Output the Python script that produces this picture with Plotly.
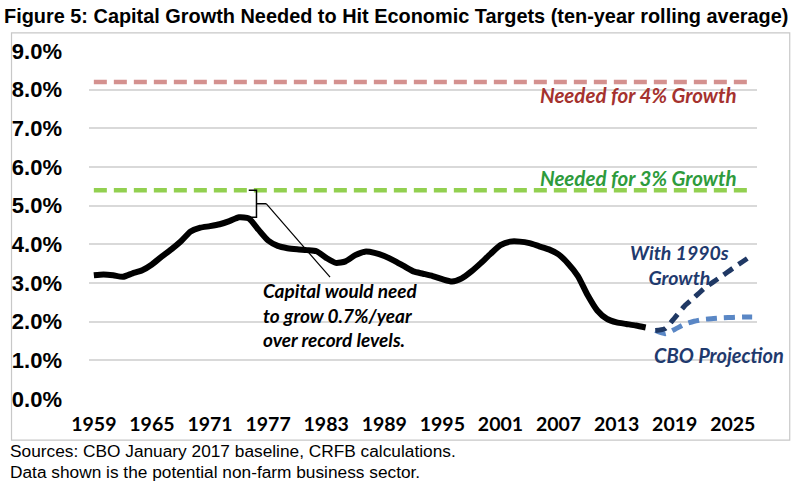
import plotly.graph_objects as go

# ---------------- data ----------------
hist_years = list(range(1959, 2017))
capital_growth = [3.20, 3.22, 3.20, 3.16, 3.25, 3.33, 3.48, 3.68, 3.87, 4.08,
                  4.33, 4.43, 4.47, 4.52, 4.60, 4.70, 4.67, 4.38, 4.10, 3.96,
                  3.90, 3.87, 3.85, 3.82, 3.65, 3.52, 3.56, 3.72, 3.81, 3.78,
                  3.70, 3.58, 3.44, 3.30, 3.24, 3.18, 3.10, 3.04, 3.12, 3.30,
                  3.52, 3.76, 3.98, 4.07, 4.07, 4.03, 3.95, 3.87, 3.74, 3.50,
                  3.18, 2.69, 2.29, 2.07, 1.98, 1.94, 1.90, 1.85]
proj_years = list(range(2017, 2028))
growth_1990s = [1.77, 1.82, 2.10, 2.40, 2.62, 2.85, 3.03, 3.20, 3.38, 3.55, 3.72]
cbo_projection = [1.77, 1.69, 1.80, 1.93, 2.01, 2.06, 2.08, 2.10, 2.11, 2.12, 2.12]
all_years = list(range(1959, 2028))
needed_4pct = [8.2] * len(all_years)
needed_3pct = [5.4] * len(all_years)
tick_years = list(range(1959, 2026, 6))
y_ticks = [0, 1, 2, 3, 4, 5, 6, 7, 8, 9]
y_labels = [f"{v:.1f}%" for v in y_ticks]

LABEL_FONT = "Lato, Carlito, Calibri, Open Sans, sans-serif"
ARIAL = "Liberation Sans, Arial, sans-serif"

fig = go.Figure()
fig.add_trace(go.Scatter(x=all_years, y=needed_4pct, mode="lines",
                         line=dict(color="#D4918F", width=4.5, dash="13px,7px")))
fig.add_trace(go.Scatter(x=all_years, y=needed_3pct, mode="lines",
                         line=dict(color="#92D050", width=4.5, dash="13px,7px")))
fig.add_trace(go.Scatter(x=hist_years, y=capital_growth, mode="lines",
                         line=dict(color="black", width=6, shape="spline", smoothing=0.6)))
fig.add_trace(go.Scatter(x=proj_years, y=cbo_projection, mode="lines",
                         line=dict(color="#5A87C5", width=5, dash="11px,7px",
                                   shape="spline", smoothing=0.6)))
fig.add_trace(go.Scatter(x=proj_years, y=growth_1990s, mode="lines",
                         line=dict(color="#1F3864", width=5, dash="11px,7px",
                                   shape="spline", smoothing=0.6)))

# bracket from record peak to 3% target
peak = max(capital_growth)
peak_year = hist_years[capital_growth.index(peak)]
target = needed_3pct[0]
mid = (peak + target) / 2
xa, xb, xc = peak_year + 1.0, peak_year + 1.8, peak_year + 2.8
fig.add_shape(type="path", xref="x", yref="y",
              path=f"M {xa},{target} L {xb},{target} L {xb},{peak} L {xa},{peak} M {xb},{mid} L {xc},{mid}",
              line=dict(color="black", width=1.5))
fig.add_shape(type="line", xref="x", yref="y", x0=xc, y0=mid, x1=1983.4, y1=3.15,
              line=dict(color="black", width=1.2))

# outer chart border
fig.add_shape(type="rect", xref="paper", yref="paper", x0=-0.116, x1=1.049, y0=-0.118, y1=1.052,
              line=dict(color="#C8C8C8", width=1.2), layer="below")

ann = dict(showarrow=False, xref="x", yref="y")
fig.add_annotation(x=2015.3, y=7.86, text="<b><i>Needed for 4% Growth</i></b>",
                   font=dict(family=LABEL_FONT, size=20.5, color="#A5322E"), **ann)
fig.add_annotation(x=2015.3, y=5.72, text="<b><i>Needed for 3% Growth</i></b>",
                   font=dict(family=LABEL_FONT, size=20.5, color="#2E9B3C"), **ann)
fig.add_annotation(x=2019.5, y=3.47, text="<b><i>With 1990s<br>Growth</i></b>",
                   font=dict(family=LABEL_FONT, size=19.5, color="#1F3A6E"), align="center", **ann)
fig.add_annotation(x=2023.6, y=1.14, text="<b><i>CBO Projection</i></b>",
                   font=dict(family=LABEL_FONT, size=20, color="#1F3A6E"), **ann)
fig.add_annotation(x=1976.3, y=2.17, xanchor="left", align="left",
                   text="<b><i>Capital would need<br>to grow 0.7%/year<br>over record levels.</i></b>",
                   font=dict(family=LABEL_FONT, size=19, color="black"), **ann)

foot = dict(showarrow=False, xref="paper", yref="paper", xanchor="left", yanchor="middle",
            font=dict(family=ARIAL, size=17.3, color="black"))
fig.add_annotation(x=-0.121, y=-0.149, text="Sources: CBO January 2017 baseline, CRFB calculations.", **foot)
fig.add_annotation(x=-0.121, y=-0.21, text="Data shown is the potential non-farm business sector.", **foot)

fig.update_layout(
    width=800, height=485,
    margin=dict(l=85, r=43, t=51, b=86),
    paper_bgcolor="white", plot_bgcolor="white",
    showlegend=False,
    title=dict(text="<b>Figure 5: Capital Growth Needed to Hit Economic Targets (ten-year rolling average)</b>",
               x=4 / 800, xanchor="left", xref="container",
               y=1 - 16 / 485, yanchor="middle", yref="container",
               font=dict(family="Liberation Sans Narrow, Arial Narrow, Liberation Sans, Arial, sans-serif",
                         size=19.9, color="black")),
    xaxis=dict(range=[1958.5, 2027.5], tickmode="array", tickvals=tick_years,
               ticktext=[str(y) for y in tick_years], showgrid=False, zeroline=False,
               showline=False, ticks="", ticklabelstandoff=11,
               tickfont=dict(family=LABEL_FONT, size=19.5, color="black", weight="bold")),
    yaxis=dict(range=[0, 9], tickmode="array", tickvals=y_ticks, ticktext=y_labels,
               showgrid=True, gridcolor="#D9D9D9", gridwidth=1.5, zeroline=False,
               showline=False, ticks="", ticklabelstandoff=26,
               tickfont=dict(family=ARIAL, size=22, color="black", weight="bold")),
)

fig.write_html("out.html", config={"displayModeBar": False},
               post_script="document.body.style.margin='0px';")
